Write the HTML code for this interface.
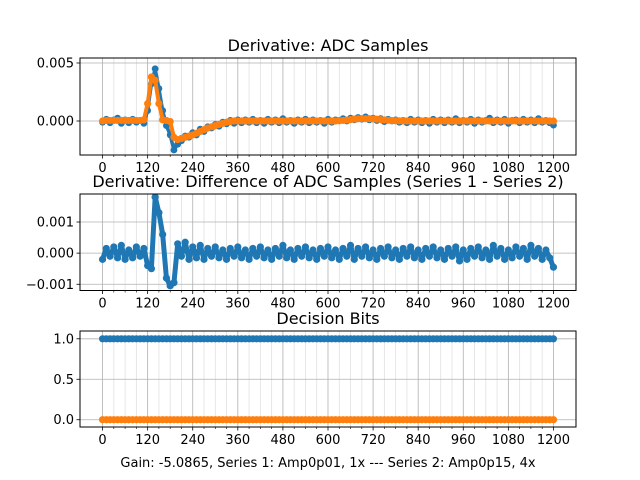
<!DOCTYPE html>
<html><head><meta charset="utf-8"><style>
body{margin:0;background:#fff}
svg{display:block;font-family:"DejaVu Sans","Liberation Sans",sans-serif}
</style></head><body>
<svg id="fig" width="640" height="480" viewBox="0 0 640 480" xmlns="http://www.w3.org/2000/svg">
<rect x="0" y="0" width="640" height="480" fill="#fff"/>
</svg>
<script>
// x sample index (every 10 samples)
const samples = [0,10,20,30,40,50,60,70,80,90,100,110,120,130,140,150,160,170,180,190,200,210,220,230,240,250,260,270,280,290,300,310,320,330,340,350,360,370,380,390,400,410,420,430,440,450,460,470,480,490,500,510,520,530,540,550,560,570,580,590,600,610,620,630,640,650,660,670,680,690,700,710,720,730,740,750,760,770,780,790,800,810,820,830,840,850,860,870,880,890,900,910,920,930,940,950,960,970,980,990,1000,1010,1020,1030,1040,1050,1060,1070,1080,1090,1100,1110,1120,1130,1140,1150,1160,1170,1180,1190,1200];
// Series values in units of 1e-3
const adcSeries1 = [-0.1,0.15,-0.15,0.1,0.25,-0.2,0.1,-0.15,0.15,-0.1,0.05,-0.2,0.9,3.2,4.5,2.8,0.9,-0.4,-1.2,-2.5,-2.0,-1.7,-1.3,-1.4,-1.0,-1.2,-0.7,-0.9,-0.5,-0.6,-0.3,-0.45,-0.1,-0.25,0.05,-0.2,0.1,-0.15,0.1,-0.1,0.15,-0.15,0.05,-0.2,0.15,-0.1,0.1,-0.15,0.2,-0.1,0.05,-0.2,0.1,-0.1,0.15,-0.15,0.1,-0.1,0.05,-0.2,0.15,-0.1,0.1,0.05,0.2,0.0,0.25,0.1,0.3,0.15,0.35,0.1,0.25,0.05,0.2,-0.05,0.15,0.0,0.1,-0.1,0.05,-0.15,0.15,-0.1,0.1,-0.15,0.05,-0.2,0.15,-0.1,0.1,-0.15,0.1,-0.1,0.2,-0.15,0.05,-0.1,0.15,-0.2,0.1,-0.1,0.05,0.25,-0.15,0.1,-0.1,0.15,-0.2,0.05,0.1,-0.15,0.15,-0.1,0.1,-0.15,0.2,-0.1,0.05,-0.15,-0.35];
const adcSeries2 = [0.0,0.05,0.05,0.05,0.05,0.05,0.05,0.05,0.05,0.05,0.05,0.1,1.5,3.8,3.5,1.5,0.1,0.05,-0.05,-1.4,-1.6,-1.5,-1.4,-1.3,-1.2,-1.05,-0.9,-0.75,-0.6,-0.5,-0.4,-0.3,-0.2,-0.1,-0.05,0.0,0.0,0.0,0.0,0.0,0.0,0.0,0.0,0.0,0.0,0.0,0.0,0.0,0.0,0.0,0.0,0.0,0.0,0.0,0.0,0.0,0.0,0.0,0.0,0.0,0.0,0.0,0.0,0.02,0.05,0.08,0.12,0.16,0.19,0.2,0.2,0.2,0.18,0.15,0.12,0.09,0.06,0.04,0.02,0.01,0.0,0.0,0.0,0.0,0.0,0.0,0.0,0.0,0.0,0.0,0.0,0.0,0.0,0.0,0.0,0.0,0.0,0.0,0.0,0.0,0.0,0.0,0.0,0.0,0.0,0.0,0.0,0.0,0.0,0.0,0.0,0.0,0.0,0.0,0.0,0.0,0.0,0.0,0.0,0.0,0.0];
const diffSeries = [-0.2,0.15,-0.1,0.2,-0.15,0.25,-0.2,0.1,-0.15,0.2,-0.1,0.15,-0.4,-0.5,1.8,1.3,0.6,-0.8,-1.05,-0.95,0.3,-0.1,0.35,-0.2,0.2,-0.15,0.25,-0.2,0.15,-0.1,0.2,-0.15,0.1,-0.2,0.15,-0.1,0.2,-0.15,0.1,-0.2,0.15,-0.1,0.2,-0.15,0.1,-0.2,0.15,-0.1,0.25,-0.15,0.1,-0.2,0.15,-0.1,0.2,-0.15,0.1,-0.2,0.15,-0.1,0.2,-0.15,0.1,-0.2,0.15,-0.1,0.25,-0.2,0.15,-0.1,0.2,-0.15,0.1,-0.2,0.15,-0.1,0.2,-0.15,0.1,-0.2,0.15,-0.1,0.2,-0.15,0.1,-0.2,0.15,-0.1,0.2,-0.15,0.1,-0.2,0.15,-0.1,0.2,-0.25,0.1,-0.2,0.15,-0.1,0.2,-0.15,0.1,-0.2,0.25,-0.1,0.15,-0.2,0.1,-0.15,0.2,-0.1,0.15,-0.2,0.25,-0.1,0.15,-0.2,0.1,-0.15,-0.45];
const bitsSeries1 = [1,1,1,1,1,1,1,1,1,1,1,1,1,1,1,1,1,1,1,1,1,1,1,1,1,1,1,1,1,1,1,1,1,1,1,1,1,1,1,1,1,1,1,1,1,1,1,1,1,1,1,1,1,1,1,1,1,1,1,1,1,1,1,1,1,1,1,1,1,1,1,1,1,1,1,1,1,1,1,1,1,1,1,1,1,1,1,1,1,1,1,1,1,1,1,1,1,1,1,1,1,1,1,1,1,1,1,1,1,1,1,1,1,1,1,1,1,1,1,1,1];
const bitsSeries2 = [0,0,0,0,0,0,0,0,0,0,0,0,0,0,0,0,0,0,0,0,0,0,0,0,0,0,0,0,0,0,0,0,0,0,0,0,0,0,0,0,0,0,0,0,0,0,0,0,0,0,0,0,0,0,0,0,0,0,0,0,0,0,0,0,0,0,0,0,0,0,0,0,0,0,0,0,0,0,0,0,0,0,0,0,0,0,0,0,0,0,0,0,0,0,0,0,0,0,0,0,0,0,0,0,0,0,0,0,0,0,0,0,0,0,0,0,0,0,0,0,0];
const xTicks = [0,120,240,360,480,600,720,840,960,1080,1200];
const y1Ticks = [0.000,0.005];
const y1Labels = ["0.000","0.005"];
const y2Ticks = [-0.001,0.000,0.001];
const y2Labels = ["\u22120.001","0.000","0.001"];
const y3Ticks = [0,0.5,1];
const y3Labels = ["0.0","0.5","1.0"];

const NS="http://www.w3.org/2000/svg";
const fig=document.getElementById('fig');
function mk(t,a,p){const e=document.createElementNS(NS,t);for(const k in a)e.setAttribute(k,a[k]);(p||fig).appendChild(e);return e;}
const L=80,R=576,XMIN=-60,XMAX=1260;
const sx=v=>L+(v-XMIN)/(XMAX-XMIN)*(R-L);

function axes(name,top,bot,ymin,ymax,yt,yl,title,series){
  const g=mk('g',{});
  
  
  const sy=v=>bot-(v-ymin)/(ymax-ymin)*(bot-top);
  for(let m=0;m<=1200;m+=30){ if(m%120===0)continue;
    const ln=mk('line',{x1:sx(m),x2:sx(m),y1:top,y2:bot,stroke:'#e0e0e0','stroke-width':0.8},g);
    
    mk('line',{x1:sx(m),x2:sx(m),y1:bot,y2:bot+2,stroke:'#000','stroke-width':0.6},g);
  }
  xTicks.forEach(t=>{
    const ln=mk('line',{x1:sx(t),x2:sx(t),y1:top,y2:bot,stroke:'#b0b0b0','stroke-width':0.8},g);
    
    mk('line',{x1:sx(t),x2:sx(t),y1:bot,y2:bot+3.5,stroke:'#000','stroke-width':0.8},g);
    const tx=mk('text',{x:sx(t),y:bot+17,'font-size':13,'text-anchor':'middle',fill:'#000'},g);
    tx.textContent=t;
    
  });
  yt.forEach((t,i)=>{
    const ln=mk('line',{x1:L,x2:R,y1:sy(t),y2:sy(t),stroke:'#b0b0b0','stroke-width':0.8},g);
    
    mk('line',{x1:L-3.5,x2:L,y1:sy(t),y2:sy(t),stroke:'#000','stroke-width':0.8},g);
    const tx=mk('text',{x:L-6,y:sy(t)+4.5,'font-size':13,'text-anchor':'end',fill:'#000'},g);
    tx.textContent=yl[i];
    
  });
  series.forEach(s=>{
    const sg=mk('g',{},g);
    
    const pts=samples.map((x,i)=>sx(x).toFixed(2)+','+sy(s.vals[i]*s.k).toFixed(2)).join(' ');
    mk('polyline',{points:pts,fill:'none',stroke:s.c,'stroke-width':s.w,'stroke-linejoin':'round'},sg);
    samples.forEach((x,i)=>{
      const c=mk('circle',{cx:sx(x),cy:sy(s.vals[i]*s.k),r:s.r,fill:s.c},sg);
      
    });
  });
  const fr=mk('rect',{x:L,y:top,width:R-L,height:bot-top,fill:'none',stroke:'#000','stroke-width':1},g);
  
  const tt=mk('text',{x:(L+R)/2,y:top-7,'font-size':16,'text-anchor':'middle',fill:'#000'});
  tt.textContent=title;
  
}
axes('adc-samples-plot',58,155,-0.00293,0.00543,y1Ticks,y1Labels,'Derivative: ADC Samples',
 [{name:'series-1',vals:adcSeries1,k:0.001,c:'#1f77b4',w:3.5,r:3.4},{name:'series-2',vals:adcSeries2,k:0.001,c:'#ff7f0e',w:4,r:3.6}]);
axes('difference-plot',194,290.5,-0.0012,0.0019,y2Ticks,y2Labels,'Derivative: Difference of ADC Samples (Series 1 - Series 2)',
 [{name:'difference-series',vals:diffSeries,k:0.001,c:'#1f77b4',w:5,r:3.6}]);
axes('decision-bits-plot',331,427,-0.0899,1.0963,y3Ticks,y3Labels,'Decision Bits',
 [{name:'bits-series-1',vals:bitsSeries1,k:1,c:'#1f77b4',w:5,r:3.6},{name:'bits-series-2',vals:bitsSeries2,k:1,c:'#ff7f0e',w:5,r:3.6}]);
const xl=mk('text',{x:328,y:467,'font-size':13,'text-anchor':'middle',fill:'#000'});
xl.textContent='Gain: -5.0865, Series 1: Amp0p01, 1x --- Series 2: Amp0p15, 4x';


</script>
</body></html>
